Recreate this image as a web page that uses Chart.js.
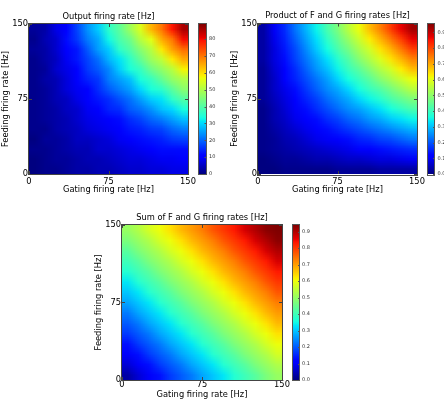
<!DOCTYPE html>
<html>
<head>
<meta charset="utf-8">
<script src="https://cdn.jsdelivr.net/npm/chart.js@4.4.1/dist/chart.umd.min.js"></script>
<style>
    html, body { margin: 0; padding: 0; background: #fff; }
    #page { position: relative; width: 444px; height: 403px; overflow: hidden; }
    canvas { position: absolute; }
</style>
</head>
<body>
<div id="page">
    <canvas id="outputChart" width="222" height="200" style="left:0;top:0;width:222px;height:200px"></canvas>
    <canvas id="productChart" width="222" height="200" style="left:222px;top:0;width:222px;height:200px"></canvas>
    <canvas id="sumChart" width="230" height="203" style="left:90px;top:200px;width:230px;height:203px"></canvas>
</div>
<script>
// cell centres in Hz, rows of every map go from the top (feeding 145 Hz) down
const gatingRates = [5, 15, 25, 35, 45, 55, 65, 75, 85, 95, 105, 115, 125, 135, 145];
const feedingRates = [145, 135, 125, 115, 105, 95, 85, 75, 65, 55, 45, 35, 25, 15, 5];
const axisTicks = [0, 75, 150];

const outputRates = [
    [2, 3, 8, 11, 17, 24, 29, 36, 41, 48, 55, 64, 70, 79, 86],
    [1, 4, 6, 12, 16, 22, 26, 33, 39, 43, 51, 56, 65, 70, 80],
    [2, 3, 6, 10, 13, 19, 25, 29, 36, 40, 46, 51, 59, 66, 71],
    [1, 3, 5, 9, 13, 17, 21, 27, 31, 36, 42, 48, 52, 59, 65],
    [1, 2, 6, 8, 11, 16, 19, 23, 29, 34, 37, 43, 47, 51, 58],
    [1, 3, 4, 7, 10, 14, 16, 22, 25, 28, 34, 37, 42, 47, 50],
    [1, 2, 4, 7, 9, 11, 15, 19, 22, 25, 30, 34, 36, 41, 46],
    [1, 2, 4, 5, 8, 10, 13, 15, 18, 21, 25, 29, 31, 36, 40],
    [1, 2, 3, 5, 6, 9, 11, 14, 15, 19, 21, 24, 28, 30, 34],
    [1, 2, 3, 4, 6, 8, 9, 11, 12, 15, 17, 20, 22, 25, 28],
    [1, 1, 3, 4, 5, 7, 8, 9, 11, 13, 14, 16, 17, 20, 22],
    [0, 2, 2, 3, 5, 5, 6, 7, 9, 10, 12, 13, 14, 16, 17],
    [1, 1, 2, 3, 4, 4, 6, 6, 7, 8, 9, 10, 12, 12, 12],
    [0, 1, 2, 2, 3, 4, 4, 5, 6, 7, 7, 8, 9, 9, 10],
    [0, 1, 1, 2, 3, 3, 4, 4, 5, 6, 6, 7, 7, 8, 8]
];

const productRates = [
    [0.03, 0.10, 0.16, 0.23, 0.29, 0.35, 0.42, 0.48, 0.55, 0.61, 0.68, 0.74, 0.81, 0.87, 0.93],
    [0.03, 0.09, 0.15, 0.21, 0.27, 0.33, 0.39, 0.45, 0.51, 0.57, 0.63, 0.69, 0.75, 0.81, 0.87],
    [0.03, 0.08, 0.14, 0.19, 0.25, 0.31, 0.36, 0.42, 0.47, 0.53, 0.58, 0.64, 0.69, 0.75, 0.81],
    [0.03, 0.08, 0.13, 0.18, 0.23, 0.28, 0.33, 0.38, 0.43, 0.49, 0.54, 0.59, 0.64, 0.69, 0.74],
    [0.02, 0.07, 0.12, 0.16, 0.21, 0.26, 0.30, 0.35, 0.40, 0.44, 0.49, 0.54, 0.58, 0.63, 0.68],
    [0.02, 0.06, 0.11, 0.15, 0.19, 0.23, 0.27, 0.32, 0.36, 0.40, 0.44, 0.49, 0.53, 0.57, 0.61],
    [0.02, 0.06, 0.09, 0.13, 0.17, 0.21, 0.25, 0.28, 0.32, 0.36, 0.40, 0.43, 0.47, 0.51, 0.55],
    [0.02, 0.05, 0.08, 0.12, 0.15, 0.18, 0.22, 0.25, 0.28, 0.32, 0.35, 0.38, 0.42, 0.45, 0.48],
    [0.01, 0.04, 0.07, 0.10, 0.13, 0.16, 0.19, 0.22, 0.25, 0.27, 0.30, 0.33, 0.36, 0.39, 0.42],
    [0.01, 0.04, 0.06, 0.09, 0.11, 0.13, 0.16, 0.18, 0.21, 0.23, 0.26, 0.28, 0.31, 0.33, 0.35],
    [0.01, 0.03, 0.05, 0.07, 0.09, 0.11, 0.13, 0.15, 0.17, 0.19, 0.21, 0.23, 0.25, 0.27, 0.29],
    [0.01, 0.02, 0.04, 0.05, 0.07, 0.09, 0.10, 0.12, 0.13, 0.15, 0.16, 0.18, 0.19, 0.21, 0.23],
    [0.01, 0.02, 0.03, 0.04, 0.05, 0.06, 0.07, 0.08, 0.09, 0.11, 0.12, 0.13, 0.14, 0.15, 0.16],
    [0.00, 0.01, 0.02, 0.02, 0.03, 0.04, 0.04, 0.05, 0.06, 0.06, 0.07, 0.08, 0.08, 0.09, 0.10],
    [0.00, 0.00, 0.01, 0.01, 0.01, 0.01, 0.01, 0.02, 0.02, 0.02, 0.02, 0.03, 0.03, 0.03, 0.03]
];

const sumRates = [
    [0.50, 0.53, 0.57, 0.60, 0.63, 0.67, 0.70, 0.73, 0.77, 0.80, 0.83, 0.87, 0.90, 0.93, 0.97],
    [0.47, 0.50, 0.53, 0.57, 0.60, 0.63, 0.67, 0.70, 0.73, 0.77, 0.80, 0.83, 0.87, 0.90, 0.93],
    [0.43, 0.47, 0.50, 0.53, 0.57, 0.60, 0.63, 0.67, 0.70, 0.73, 0.77, 0.80, 0.83, 0.87, 0.90],
    [0.40, 0.43, 0.47, 0.50, 0.53, 0.57, 0.60, 0.63, 0.67, 0.70, 0.73, 0.77, 0.80, 0.83, 0.87],
    [0.37, 0.40, 0.43, 0.47, 0.50, 0.53, 0.57, 0.60, 0.63, 0.67, 0.70, 0.73, 0.77, 0.80, 0.83],
    [0.33, 0.37, 0.40, 0.43, 0.47, 0.50, 0.53, 0.57, 0.60, 0.63, 0.67, 0.70, 0.73, 0.77, 0.80],
    [0.30, 0.33, 0.37, 0.40, 0.43, 0.47, 0.50, 0.53, 0.57, 0.60, 0.63, 0.67, 0.70, 0.73, 0.77],
    [0.27, 0.30, 0.33, 0.37, 0.40, 0.43, 0.47, 0.50, 0.53, 0.57, 0.60, 0.63, 0.67, 0.70, 0.73],
    [0.23, 0.27, 0.30, 0.33, 0.37, 0.40, 0.43, 0.47, 0.50, 0.53, 0.57, 0.60, 0.63, 0.67, 0.70],
    [0.20, 0.23, 0.27, 0.30, 0.33, 0.37, 0.40, 0.43, 0.47, 0.50, 0.53, 0.57, 0.60, 0.63, 0.67],
    [0.17, 0.20, 0.23, 0.27, 0.30, 0.33, 0.37, 0.40, 0.43, 0.47, 0.50, 0.53, 0.57, 0.60, 0.63],
    [0.13, 0.17, 0.20, 0.23, 0.27, 0.30, 0.33, 0.37, 0.40, 0.43, 0.47, 0.50, 0.53, 0.57, 0.60],
    [0.10, 0.13, 0.17, 0.20, 0.23, 0.27, 0.30, 0.33, 0.37, 0.40, 0.43, 0.47, 0.50, 0.53, 0.57],
    [0.07, 0.10, 0.13, 0.17, 0.20, 0.23, 0.27, 0.30, 0.33, 0.37, 0.40, 0.43, 0.47, 0.50, 0.53],
    [0.03, 0.07, 0.10, 0.13, 0.17, 0.20, 0.23, 0.27, 0.30, 0.33, 0.37, 0.40, 0.43, 0.47, 0.50]
];

const outputBarTicks = [0, 10, 20, 30, 40, 50, 60, 70, 80];
const productBarTicks = [0, 0.1, 0.2, 0.3, 0.4, 0.5, 0.6, 0.7, 0.8, 0.9];
const sumBarTicks = [0, 0.1, 0.2, 0.3, 0.4, 0.5, 0.6, 0.7, 0.8, 0.9];
const outputMax = 89;
const productMax = 0.956;
const sumMax = 0.94;

// matplotlib "jet" colormap
const jetRed = [[0, 0], [0.35, 0], [0.66, 1], [0.89, 1], [1, 0.5]];
const jetGreen = [[0, 0], [0.125, 0], [0.375, 1], [0.64, 1], [0.91, 0], [1, 0]];
const jetBlue = [[0, 0.5], [0.11, 1], [0.34, 1], [0.65, 0], [1, 0]];

function channel(points, t) {
    for (let i = 1; i < points.length; i++) {
        if (t <= points[i][0]) {
            const [x0, y0] = points[i - 1];
            const [x1, y1] = points[i];
            return y0 + (y1 - y0) * (t - x0) / (x1 - x0);
        }
    }
    return points[points.length - 1][1];
}

function jet(t) {
    t = Math.min(1, Math.max(0, t));
    return [jetRed, jetGreen, jetBlue].map(p => Math.round(channel(p, t) * 255));
}

const font = { family: 'DejaVu Sans', size: 8.3 };

const heatmapPlugin = {
    id: 'heatmap',
    beforeDatasetsDraw(chart, args, opts) {
        const { ctx, chartArea } = chart;
        const xScale = chart.scales.x;
        const yScale = chart.scales.y;
        const cb = chart.scales.cb;
        const rows = opts.values;
        const cols = rows[0].length;

        const img = document.createElement('canvas');
        img.width = cols;
        img.height = rows.length;
        const ictx = img.getContext('2d');
        const pixels = ictx.createImageData(cols, rows.length);
        rows.forEach((row, r) => {
            row.forEach((v, c) => {
                const rgb = jet(v / opts.max);
                const k = (r * cols + c) * 4;
                pixels.data[k] = rgb[0];
                pixels.data[k + 1] = rgb[1];
                pixels.data[k + 2] = rgb[2];
                pixels.data[k + 3] = 255;
            });
        });
        ictx.putImageData(pixels, 0, 0);

        // each cell spans half a step either side of its centre
        const half = (gatingRates[1] - gatingRates[0]) / 2;
        const left = xScale.getPixelForValue(gatingRates[0] - half);
        const right = xScale.getPixelForValue(gatingRates[cols - 1] + half);
        const top = yScale.getPixelForValue(feedingRates[0] + half);
        const bottom = yScale.getPixelForValue(feedingRates[rows.length - 1] - half);

        ctx.save();
        ctx.imageSmoothingEnabled = true;
        ctx.drawImage(img, left, top, right - left, bottom - top);

        // frame and inward ticks
        ctx.strokeStyle = '#444';
        ctx.lineWidth = 1;
        ctx.strokeRect(Math.round(chartArea.left) - 0.5, Math.round(chartArea.top) - 0.5,
            Math.round(chartArea.width) + 1, Math.round(chartArea.height) + 1);
        ctx.beginPath();
        axisTicks.forEach(t => {
            const px = Math.round(xScale.getPixelForValue(t)) + 0.5;
            const py = Math.round(yScale.getPixelForValue(t)) + 0.5;
            ctx.moveTo(px, chartArea.bottom); ctx.lineTo(px, chartArea.bottom - 3);
            ctx.moveTo(px, chartArea.top); ctx.lineTo(px, chartArea.top + 3);
            ctx.moveTo(chartArea.left, py); ctx.lineTo(chartArea.left + 3, py);
            ctx.moveTo(chartArea.right, py); ctx.lineTo(chartArea.right - 3, py);
        });
        ctx.stroke();

        // colour bar
        const y0 = cb.getPixelForValue(0);
        const y1 = cb.getPixelForValue(opts.max);
        const grad = ctx.createLinearGradient(0, y0, 0, y1);
        for (let i = 0; i <= 100; i++) {
            const rgb = jet(i / 100);
            grad.addColorStop(i / 100, `rgb(${rgb[0]},${rgb[1]},${rgb[2]})`);
        }
        const bx = cb.left + opts.barOffset;
        ctx.fillStyle = grad;
        ctx.fillRect(bx, y1, opts.barWidth, y0 - y1);
        ctx.strokeStyle = '#555';
        ctx.strokeRect(Math.round(bx) + 0.5, Math.round(y1) - 0.5, Math.round(opts.barWidth) - 1, Math.round(y0 - y1) + 1);
        ctx.beginPath();
        opts.barTicks.forEach(t => {
            const py = Math.round(cb.getPixelForValue(t)) + 0.5;
            ctx.moveTo(bx + opts.barWidth - 2, py);
            ctx.lineTo(bx + opts.barWidth, py);
        });
        ctx.stroke();
        ctx.restore();
    }
};

function makeHeatmap(canvasId, setup) {
    const ctx = document.getElementById(canvasId).getContext('2d');
    return new Chart(ctx, {
        type: 'scatter',
        data: { datasets: [] },
        plugins: [heatmapPlugin],
        options: {
            responsive: false,
            animation: false,
            devicePixelRatio: 1,
            events: [],
            layout: { padding: 0 },
            plugins: {
                legend: { display: false },
                tooltip: { enabled: false },
                title: {
                    display: true,
                    text: setup.title,
                    fullSize: false,
                    color: '#000',
                    font: { family: 'DejaVu Sans', size: 8.3, weight: 'normal' },
                    padding: { top: setup.titleTop, bottom: setup.titleBottom }
                },
                heatmap: {
                    values: setup.values,
                    max: setup.max,
                    barTicks: setup.barTicks,
                    barOffset: setup.barOffset,
                    barWidth: setup.barWidth
                }
            },
            scales: {
                x: {
                    type: 'linear',
                    position: 'bottom',
                    min: 0,
                    max: 150,
                    afterBuildTicks: s => { s.ticks = axisTicks.map(v => ({ value: v })); },
                    afterFit: s => { s.height = setup.xHeight; },
                    ticks: { font: font, color: '#000', padding: setup.xTickPad, maxRotation: 0, autoSkip: false },
                    grid: { display: false, drawTicks: false },
                    border: { display: false },
                    title: {
                        display: true,
                        text: 'Gating firing rate [Hz]',
                        color: '#000',
                        font: font,
                        padding: { top: 0, bottom: setup.xTitlePad }
                    }
                },
                y: {
                    type: 'linear',
                    position: 'left',
                    min: 0,
                    max: 150,
                    afterBuildTicks: s => { s.ticks = axisTicks.map(v => ({ value: v })); },
                    afterFit: s => { s.width = setup.yWidth; },
                    ticks: { font: font, color: '#000', padding: 1, autoSkip: false },
                    grid: { display: false, drawTicks: false },
                    border: { display: false },
                    title: {
                        display: true,
                        text: 'Feeding firing rate [Hz]',
                        color: '#000',
                        font: font,
                        padding: { top: setup.yTitlePad, bottom: 0 }
                    }
                },
                cb: {
                    type: 'linear',
                    position: 'right',
                    min: 0,
                    max: setup.max,
                    afterBuildTicks: s => { s.ticks = setup.barTicks.map(v => ({ value: v })); },
                    afterFit: s => { s.width = setup.cbWidth; },
                    ticks: {
                        font: { family: 'DejaVu Sans', size: 5 },
                        color: '#333',
                        padding: setup.barLabelPad,
                        autoSkip: false,
                        callback: setup.barFormat
                    },
                    grid: { display: false, drawTicks: false },
                    border: { display: false }
                }
            }
        }
    });
}

document.addEventListener('DOMContentLoaded', function () {
    makeHeatmap('outputChart', {
        title: 'Output firing rate [Hz]',
        values: outputRates,
        max: outputMax,
        barTicks: outputBarTicks,
        barFormat: v => String(v),
        titleTop: 7.5, titleBottom: 2.5,
        yWidth: 29, xHeight: 26, cbWidth: 34,
        xTickPad: 2.5, xTitlePad: 5.3, yTitlePad: 1,
        barOffset: 10, barWidth: 8.5, barLabelPad: 21
    });

    makeHeatmap('productChart', {
        title: 'Product of F and G firing rates [Hz]',
        values: productRates,
        max: productMax,
        barTicks: productBarTicks,
        barFormat: v => v.toFixed(1),
        titleTop: 7.5, titleBottom: 2.5,
        yWidth: 36, xHeight: 26, cbWidth: 27,
        xTickPad: 2.5, xTitlePad: 5.3, yTitlePad: 8,
        barOffset: 10, barWidth: 8, barLabelPad: 20.5
    });

    makeHeatmap('sumChart', {
        title: 'Sum of F and G firing rates [Hz]',
        values: sumRates,
        max: sumMax,
        barTicks: sumBarTicks,
        barFormat: v => v.toFixed(1),
        titleTop: 13.3, titleBottom: 1.7,
        yWidth: 32, xHeight: 21, cbWidth: 38,
        xTickPad: 0, xTitlePad: 1, yTitlePad: 4.3,
        barOffset: 10, barWidth: 8, barLabelPad: 20
    });
});
</script>
</body>
</html>
